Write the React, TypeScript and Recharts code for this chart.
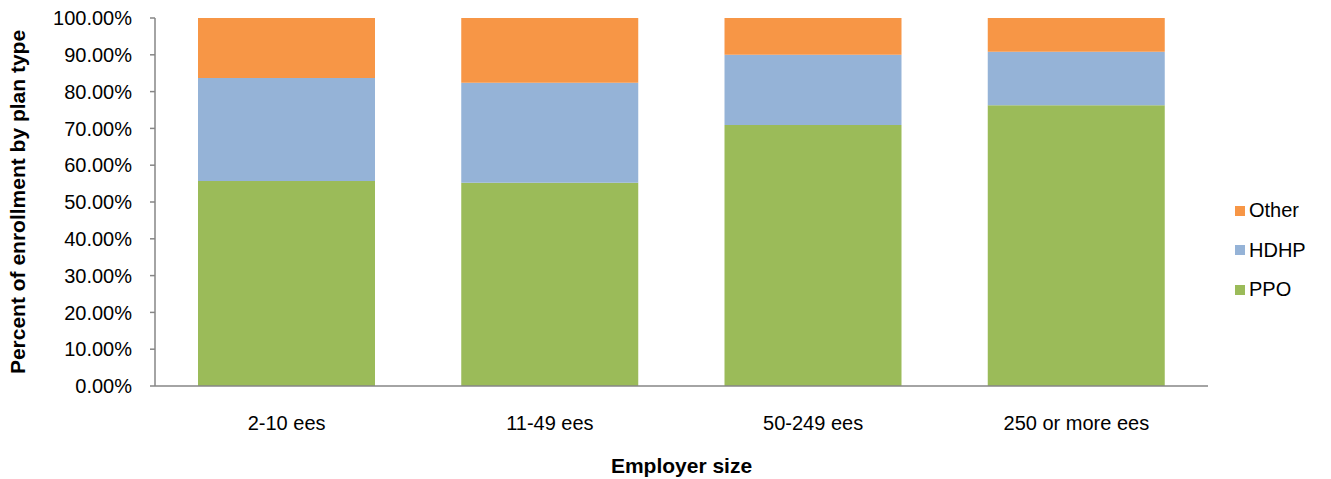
import { BarChart, Bar, XAxis, YAxis, Legend } from 'recharts';

const employerSizes = ['2-10 ees', '11-49 ees', '50-249 ees', '250 or more ees'];
const ppoShare = [0.557, 0.552, 0.709, 0.763];
const hdhpShare = [0.28, 0.272, 0.191, 0.145];
const otherShare = [0.163, 0.176, 0.1, 0.092];
const yTicks = [0, 0.1, 0.2, 0.3, 0.4, 0.5, 0.6, 0.7, 0.8, 0.9, 1];
// legend reads top to bottom, opposite of the stacking order
const legendOrder = ['Other', 'HDHP', 'PPO'];

const COLORS: Record<string, string> = { PPO: '#9BBB59', HDHP: '#95B3D7', Other: '#F79646' };
const AXIS_GRAY = '#868686';
const FONT = '"Liberation Sans", Arial, sans-serif';

const data = employerSizes.map((size, i) => ({
  size,
  PPO: ppoShare[i],
  HDHP: hdhpShare[i],
  Other: otherShare[i],
}));

const PlanLegend = () => (
  <div style={{ fontFamily: FONT, fontSize: 20, color: '#000' }}>
    {legendOrder.map((name) => (
      <div key={name} style={{ display: 'flex', alignItems: 'center', height: 39.5 }}>
        <span style={{ width: 10, height: 10, background: COLORS[name], marginRight: 4 }} />
        <span>{name}</span>
      </div>
    ))}
  </div>
);

export default function App() {
  return (
    <div style={{ position: 'absolute', left: 0, top: 0, background: '#fff' }}>
      <BarChart
        width={1331}
        height={479}
        data={data}
        margin={{ top: 18, right: 123, bottom: 13, left: 0 }}
        barSize={177}
      >
        <XAxis
          dataKey="size"
          height={80}
          tickLine={false}
          tickSize={0}
          tickMargin={30}
          axisLine={{ stroke: AXIS_GRAY, strokeWidth: 1.5 }}
          tick={{ fill: '#000', fontSize: 20, fontFamily: FONT }}
          label={{
            content: ({ viewBox }: any) => (
              <text
                x={viewBox.x + viewBox.width / 2}
                y={473}
                textAnchor="middle"
                fontFamily={FONT}
                fontSize={21}
                fontWeight="bold"
                fill="#000"
              >
                Employer size
              </text>
            ),
          }}
        />
        <YAxis
          width={155}
          domain={[0, 1]}
          ticks={yTicks}
          interval={0}
          tickSize={5}
          tickMargin={18}
          tickFormatter={(v: number) => `${(v * 100).toFixed(2)}%`}
          axisLine={{ stroke: AXIS_GRAY, strokeWidth: 1.5 }}
          tickLine={{ stroke: AXIS_GRAY, strokeWidth: 1.5 }}
          tick={{ fill: '#000', fontSize: 20, fontFamily: FONT }}
          label={{
            content: ({ viewBox }: any) => {
              const cy = viewBox.y + viewBox.height / 2;
              return (
                <text
                  x={25}
                  y={cy}
                  transform={`rotate(-90 25 ${cy})`}
                  textAnchor="middle"
                  fontFamily={FONT}
                  fontSize={21}
                  fontWeight="bold"
                  fill="#000"
                >
                  Percent of enrollment by plan type
                </text>
              );
            },
          }}
        />
        <Legend
          layout="vertical"
          align="center"
          verticalAlign="middle"
          content={<PlanLegend />}
          wrapperStyle={{ left: 1235, top: 191, width: 96, height: 120 }}
        />
        <Bar dataKey="PPO" stackId="plan" fill={COLORS.PPO} isAnimationActive={false} />
        <Bar dataKey="HDHP" stackId="plan" fill={COLORS.HDHP} isAnimationActive={false} />
        <Bar dataKey="Other" stackId="plan" fill={COLORS.Other} isAnimationActive={false} />
      </BarChart>
    </div>
  );
}
